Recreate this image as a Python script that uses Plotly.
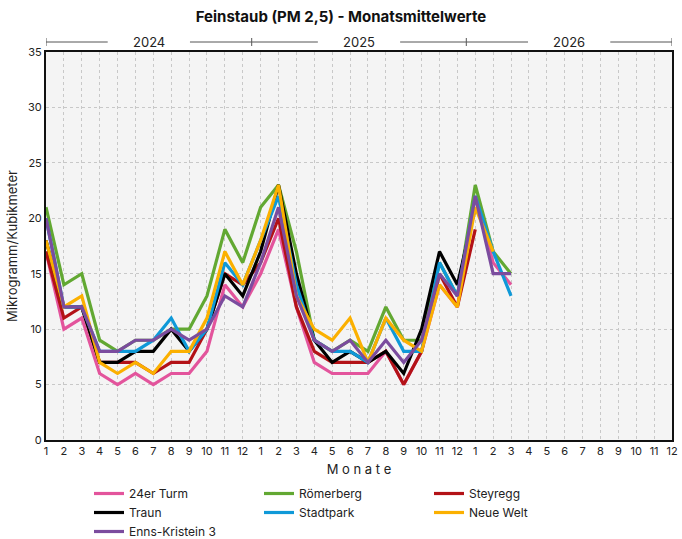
import plotly.graph_objects as go

# Monthly positions: index 0 = Jan 2024 ... 35 = Dec 2026
months = [str(m) for m in range(1, 13)] * 3
years = ["2024", "2025", "2026"]

turm24 = [17, 10, 11, 6, 5, 6, 5, 6, 6, 8, 14, 12,
          15, 19, 12, 7, 6, 6, 6, 8, 5, 8, 14, 12,
          22, 16, 14]
roemerberg = [21, 14, 15, 9, 8, 9, 9, 10, 10, 13, 19, 16,
              21, 23, 17, 9, 8, 9, 8, 12, 9, 9, 16, 13,
              23, 17, 15]
steyregg = [17, 11, 12, 7, 7, 7, 6, 7, 7, 10, 15, 14,
            16, 20, 12, 8, 7, 7, 7, 8, 5, 8, 15, 12,
            19, None, None]
traun = [18, 12, 12, 7, 7, 8, 8, 10, 8, 10, 15, 13,
         17, 23, 15, 9, 7, 8, 7, 8, 6, 10, 17, 14,
         21, None, None]
stadtpark = [20, 12, 12, 8, 8, 8, 9, 11, 8, 10, 16, 14,
             18, 22, 14, 9, 8, 8, 7, 11, 8, 8, 16, 13,
             22, 17, 13]
neuewelt = [18, 12, 13, 7, 6, 7, 6, 8, 8, 11, 17, 14,
            18, 23, 13, 10, 9, 11, 7, 11, 9, 8, 14, 12,
            21, 17, None]
enns = [20, 12, 12, 8, 8, 9, 9, 10, 9, 10, 13, 12,
        16, 21, 13, 9, 8, 9, 7, 9, 7, 9, 15, 13,
        22, 15, 15]

series = [
    ("24er Turm", turm24, "#e3549c"),
    ("Römerberg", roemerberg, "#62a832"),
    ("Steyregg", steyregg, "#b31217"),
    ("Traun", traun, "#000000"),
    ("Stadtpark", stadtpark, "#0f99d8"),
    ("Neue Welt", neuewelt, "#fbb000"),
    ("Enns-Kristein 3", enns, "#7b4c9e"),
]

FONT = "Inter, Roboto, sans-serif"
fig = go.Figure()
for name, vals, col in series:
    fig.add_trace(go.Scatter(
        x=list(range(len(vals))), y=vals, name=name, mode="lines",
        line=dict(color=col, width=3.2), connectgaps=False,
    ))

# Top year axis
shapes = []
annotations = []
bounds = [0, 11.5, 23.5, 35]
ly = 1 + 10 / 388
for i, yr in enumerate(years):
    a, b = bounds[i], bounds[i + 1]
    c = (a + b) / 2
    gap = 2.3
    for s0, s1 in [(a, c - gap), (c + gap, b)]:
        shapes.append(dict(type="line", xref="x", yref="paper", x0=s0, x1=s1,
                           y0=ly, y1=ly, line=dict(color="#555", width=1)))
    annotations.append(dict(x=c, y=ly, xref="x", yref="paper", text=yr,
                            showarrow=False, font=dict(size=13, color="#222", family=FONT),
                            xanchor="center", yanchor="middle"))
for bx in bounds:
    shapes.append(dict(type="line", xref="x", yref="paper", x0=bx, x1=bx,
                       y0=ly - 4 / 388, y1=ly + 4 / 388, line=dict(color="#555", width=1)))

fig.update_layout(
    width=682, height=539,
    margin=dict(l=46, r=10, t=52, b=99, autoexpand=False),
    paper_bgcolor="white",
    plot_bgcolor="#f4f4f4",
    font=dict(family=FONT, size=11, color="#222"),
    title=dict(text="<b>Feinstaub (PM 2,5) - Monatsmittelwerte</b>", x=0.5, xanchor="center",
               y=1 - 17 / 539, yanchor="middle", font=dict(size=15, color="#111", family=FONT)),
    xaxis=dict(range=[0, 35], tickmode="array", tickvals=list(range(36)), ticktext=months,
               showgrid=True, gridcolor="#c8c8c8", griddash="dot", gridwidth=1,
               showline=True, linecolor="#111", linewidth=2, mirror=True, zeroline=False,
               ticks="", tickfont=dict(size=11, color="#222"),
               title=dict(text="M o n a t e", font=dict(size=13, color="#222"), standoff=8)),
    yaxis=dict(range=[0, 35], tickmode="array", tickvals=list(range(0, 36, 5)),
               showgrid=True, gridcolor="#c8c8c8", griddash="dot", gridwidth=1,
               showline=True, linecolor="#111", linewidth=2, mirror=True, zeroline=False,
               ticks="", tickfont=dict(size=11, color="#222"),
               title=dict(text="Mikrogramm/Kubikmeter", font=dict(size=13, color="#222"), standoff=8)),
    legend=dict(orientation="h", xref="container", x=89 / 682, yref="container",
                y=1 - 479 / 539, yanchor="top",
                entrywidth=125, entrywidthmode="pixels", tracegroupgap=0,
                font=dict(size=12, color="#222"), bgcolor="rgba(0,0,0,0)"),
    shapes=shapes, annotations=annotations,
)

fig.write_html("out.html")
